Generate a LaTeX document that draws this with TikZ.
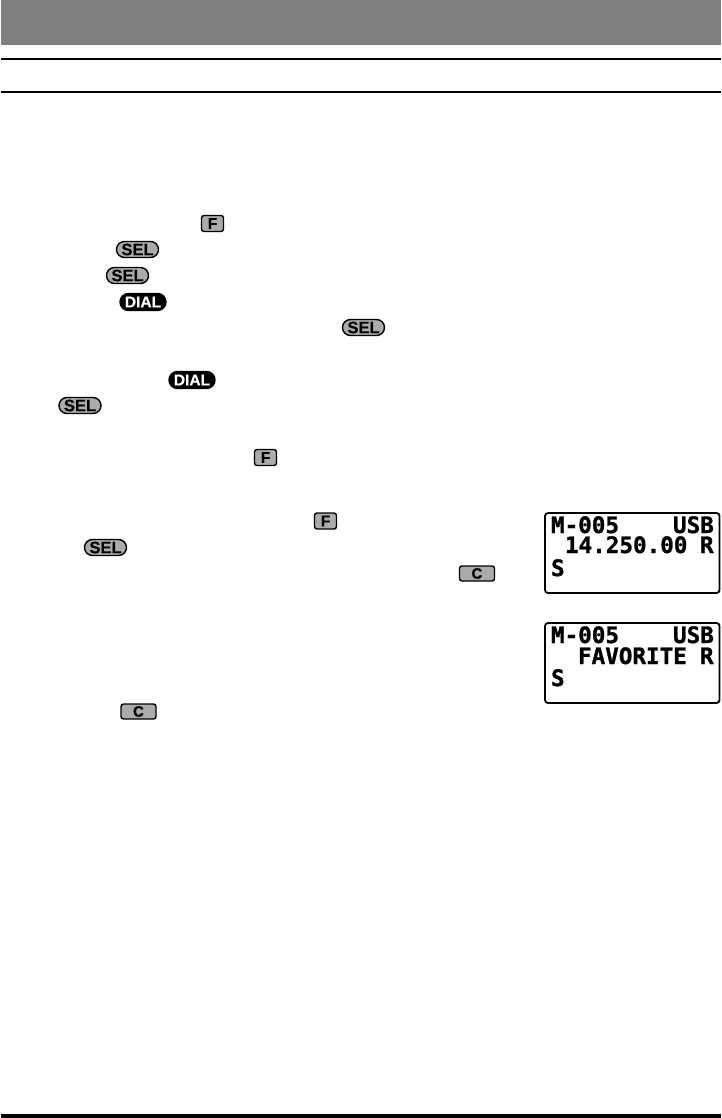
\documentclass[tikz,border=0pt]{standalone}
\usepackage{fontspec}
\setmainfont{Liberation Sans}[BoldFeatures={FakeBold=0.6}]
\newfontfamily\lcdfont{DejaVu Sans Mono Bold}[FakeBold=1.2]
\definecolor{hdr}{HTML}{808080}
\definecolor{keygray}{HTML}{ABABAB}
\tikzset{
  x=1pt,y=-1pt,
  keybase/.style={inner sep=0pt,outer sep=0pt,draw=black,line width=1.4pt,font=\fontsize{16.5}{16.5}\selectfont\bfseries,text=black,anchor=center},
  selkey/.style={keybase,fill=keygray,minimum width=42pt,minimum height=16pt,rounded corners=8pt},
  dialkey/.style={keybase,fill=black,text=white,minimum width=46pt,minimum height=17pt,rounded corners=8.5pt,font=\fontsize{15.5}{15.5}\selectfont\bfseries},
  fkey/.style={keybase,fill=keygray,minimum width=22pt,minimum height=16pt,rounded corners=2.5pt,font=\fontsize{15.5}{15.5}\selectfont\bfseries},
  ckey/.style={keybase,fill=keygray,minimum width=35pt,minimum height=15pt,rounded corners=2.5pt,font=\fontsize{15}{15}\selectfont\bfseries},
  lcdbox/.style={draw=black,line width=1.8pt,rounded corners=3pt,fill=white},
  lcdtext/.style={inner sep=0pt,outer sep=0pt,anchor=base west,font=\lcdfont\fontsize{22.6}{22.6}\selectfont},
}
\begin{document}
\begin{tikzpicture}
\useasboundingbox (0,0) rectangle (721,1118);
\fill[hdr] (1,0) rectangle (721,45);
\fill[black] (1,58) rectangle (721,60);
\fill[black] (1,91) rectangle (721,93);
\fill[black] (1,1114) rectangle (721,1118);
\node[fkey] (f1) at (212.5,223.5) {F};
\node[selkey] (s1) at (137.5,249.5) {SEL};
\node[selkey] (s2) at (127.5,275.5) {SEL};
\node[dialkey] (d1) at (143,302) {DIAL};
\node[selkey] (s3) at (363.5,327.5) {SEL};
\node[dialkey] (d2) at (192,380) {DIAL};
\node[selkey] (s4) at (80,405.5) {SEL};
\node[fkey] (f2) at (265.5,457.5) {F};
\node[fkey] (f3) at (325.5,521) {F};
\node[selkey] (s5) at (105.5,547.5) {SEL};
\node[ckey] (c1) at (477,573.5) {C};
\node[ckey] (c2) at (138.5,711.5) {C};
\draw[lcdbox] (545,513) rectangle (719.5,593);
\draw[lcdbox] (545,623) rectangle (719.5,703);
\node[lcdtext] (a1) at (551,533) {M-005};
\node[lcdtext] (a2) at (673,533) {USB};
\node[lcdtext] (a3) at (565,553) {14.250.00};
\node[lcdtext] (a4) at (700,553) {R};
\node[lcdtext] (a5) at (551,576) {S};
\node[lcdtext] (b1) at (551,643) {M-005};
\node[lcdtext] (b2) at (673,643) {USB};
\node[lcdtext] (b3) at (578,664) {FAVORITE};
\node[lcdtext] (b4) at (700,664) {R};
\node[lcdtext] (b5) at (551,686) {S};
\end{tikzpicture}
\end{document}
